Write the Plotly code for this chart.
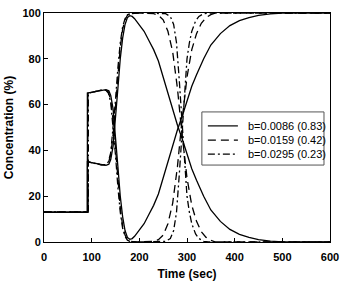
import plotly.graph_objects as go

# b = 0.0086 (0.83) -- solid
t_solid = [0, 91, 91, 100, 110, 120, 130, 136, 140, 145, 150, 155, 160, 165, 170, 175, 180, 185, 190, 200,
           210, 220, 230, 240, 250, 260, 270, 280, 290, 300, 310, 320, 335, 350, 370, 390, 410, 430, 450, 475,
           500, 600]
a_solid = [13, 13, 65, 65.3, 65.8, 66.3, 66.5, 66, 64, 58, 47, 33, 20, 11, 5, 2, 1.2, 1.5, 2.5, 5,
           8, 12, 16, 21, 28, 36, 43, 49, 55, 62, 68, 73, 80, 86, 91, 94.5, 96.7, 98, 99, 99.6,
           100, 100]
b_solid = [13, 13, 35, 34.7, 34.2, 33.7, 33.5, 34, 36, 42, 53, 67, 80, 89, 95, 98, 98.8, 98.5, 97.5, 95,
           92, 88, 84, 79, 72, 64, 57, 51, 45, 38, 32, 27, 20, 14, 9, 5.5, 3.3, 2, 1, 0.4,
           0, 0]

# b = 0.0159 (0.42) -- dashed
t_dash = [0, 92, 92, 100, 110, 120, 130, 135, 140, 145, 150, 155, 160, 165, 170, 175, 180, 190, 200, 230,
          240, 250, 260, 270, 280, 288, 295, 300, 310, 320, 330, 340, 350, 360, 600]
a_dash = [13, 13, 65, 65.3, 65.8, 66.3, 66.3, 65.5, 62, 53, 41, 27, 15, 7, 3, 1, 0.4, 0.1, 0, 0.3,
          1, 3, 8, 17, 33, 50, 64, 72, 84, 91, 95.5, 98, 99.3, 100, 100]
b_dash = [13, 13, 35, 34.7, 34.2, 33.7, 33.7, 34.5, 38, 47, 59, 73, 85, 93, 97, 99, 99.6, 99.9, 100, 99.7,
          99, 97, 92, 83, 67, 50, 36, 28, 16, 9, 4.5, 2, 0.7, 0, 0]

# b = 0.0295 (0.23) -- dash-dot
t_dd = [0, 93, 93, 100, 110, 120, 130, 135, 140, 145, 150, 155, 160, 165, 170, 175, 180, 190, 200, 255,
        265, 272, 278, 284, 290, 295, 300, 305, 310, 318, 325, 335, 345, 600]
a_dd = [13, 13, 65, 65.3, 65.8, 66.3, 66.2, 65, 61, 51, 38, 24, 13, 6, 2.5, 0.8, 0.3, 0.1, 0, 0.3,
        1.5, 5, 13, 30, 50, 66, 80, 87, 92, 96.5, 98.5, 99.7, 100, 100]
b_dd = [13, 13, 35, 34.7, 34.2, 33.7, 33.8, 35, 39, 49, 62, 76, 87, 94, 97.5, 99.2, 99.7, 99.9, 100, 99.7,
        98.5, 95, 87, 70, 50, 34, 20, 13, 8, 3.5, 1.5, 0.3, 0, 0]

labels = ["b=0.0086 (0.83)", "b=0.0159 (0.42)", "b=0.0295 (0.23)"]
x_ticks = [0, 100, 200, 300, 400, 500, 600]
y_ticks = [0, 20, 40, 60, 80, 100]

dashes = ["solid", "8px,5px", "7px,3px,2px,3px"]
series = [
    (t_solid, a_solid, b_solid),
    (t_dash, a_dash, b_dash),
    (t_dd, a_dd, b_dd),
]

fig = go.Figure()
for (t, a, b), name, dash in zip(series, labels, dashes):
    for y in (a, b):
        fig.add_trace(go.Scatter(
            x=t, y=y, mode="lines", name=name, legendgroup=name, showlegend=False,
            line=dict(color="black", width=1.3, dash=dash),
        ))

font_family = "Liberation Sans, Arial, sans-serif"

# compact legend box (paper coordinates)
shapes = [dict(type="rect", xref="paper", yref="paper", x0=0.552, x1=0.979, y0=0.336, y1=0.568,
               line=dict(color="#555", width=1), fillcolor="white", layer="above")]
annotations = []
row_y = [0.507, 0.445, 0.384]
for name, dash, ry in zip(labels, dashes, row_y):
    shapes.append(dict(type="line", xref="paper", yref="paper", x0=0.573, x1=0.678, y0=ry, y1=ry,
                       line=dict(color="black", width=1.2, dash=dash), layer="above"))
    annotations.append(dict(xref="paper", yref="paper", x=0.708, y=ry, text=name, showarrow=False,
                            xanchor="left", yanchor="middle",
                            font=dict(size=11, family=font_family, color="black")))

fig.update_layout(
    width=340, height=281,
    margin=dict(l=44, r=10, t=13, b=39),
    paper_bgcolor="white", plot_bgcolor="white",
    font=dict(family=font_family, color="black"),
    showlegend=False,
    shapes=shapes, annotations=annotations,
)
fig.update_xaxes(
    range=[0, 600], tickvals=x_ticks, ticks="inside", ticklen=4, tickcolor="black",
    showline=True, linecolor="black", linewidth=1, mirror=True, showgrid=False, zeroline=False,
    tickfont=dict(size=11, weight="bold"), ticklabelstandoff=5, automargin=False,
    title=dict(text="Time (sec)", font=dict(size=12, weight="bold"), standoff=12),
)
fig.update_yaxes(
    range=[0, 100], tickvals=y_ticks, ticks="inside", ticklen=4, tickcolor="black",
    showline=True, linecolor="black", linewidth=1, mirror=True, showgrid=False, zeroline=False,
    tickfont=dict(size=11, weight="bold"), automargin=False,
    title=dict(text="Concentration (%)", font=dict(size=12, weight="bold"), standoff=6),
)

fig.write_html("out.html")
